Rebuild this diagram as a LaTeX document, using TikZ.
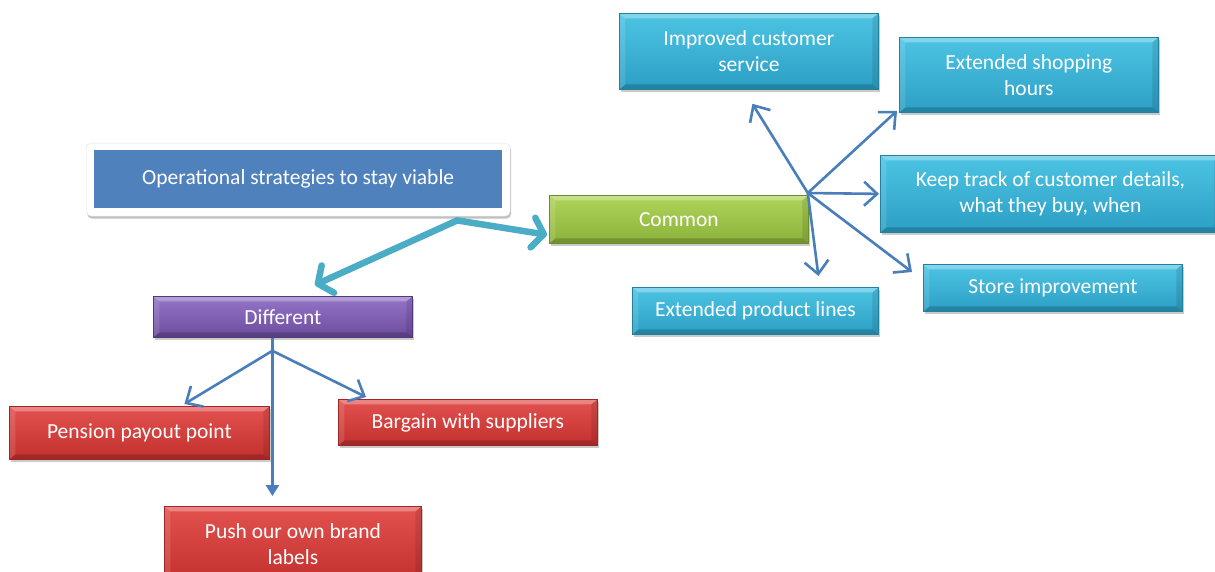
\documentclass[tikz,border=0pt]{standalone}
\usepackage{fontspec}
\setmainfont{Carlito}
\usetikzlibrary{arrows.meta,calc,shadows}

\definecolor{cyanTop}{HTML}{4DC4E4}
\definecolor{cyanBot}{HTML}{2C9FC4}
\definecolor{cyanEdge}{HTML}{23819F}
\definecolor{redTop}{HTML}{E2524F}
\definecolor{redBot}{HTML}{C3302E}
\definecolor{redEdge}{HTML}{9E2624}
\definecolor{purTop}{HTML}{9475C8}
\definecolor{purBot}{HTML}{6A4C9C}
\definecolor{purEdge}{HTML}{523A7A}
\definecolor{grnTop}{HTML}{B0D45A}
\definecolor{grnBot}{HTML}{8AB23A}
\definecolor{grnEdge}{HTML}{6D8E2B}
\definecolor{opBlue}{HTML}{4F81BD}
\definecolor{linkBlue}{HTML}{4A7EBB}
\definecolor{teal}{HTML}{4BACC6}

\tikzset{
  bevel/.style={
    path picture={
      \fill[white,opacity=0.30]
        (path picture bounding box.north west) -- (path picture bounding box.north east)
        -- ([xshift=-6pt,yshift=-5pt]path picture bounding box.north east)
        -- ([xshift=6pt,yshift=-5pt]path picture bounding box.north west) -- cycle;
      \fill[black,opacity=0.18]
        (path picture bounding box.south west) -- (path picture bounding box.south east)
        -- ([xshift=-6pt,yshift=5pt]path picture bounding box.south east)
        -- ([xshift=6pt,yshift=5pt]path picture bounding box.south west) -- cycle;
      \fill[black,opacity=0.10]
        (path picture bounding box.north east) -- (path picture bounding box.south east)
        -- ([xshift=-6pt,yshift=5pt]path picture bounding box.south east)
        -- ([xshift=-6pt,yshift=-5pt]path picture bounding box.north east) -- cycle;
      \fill[white,opacity=0.12]
        (path picture bounding box.north west) -- (path picture bounding box.south west)
        -- ([xshift=6pt,yshift=5pt]path picture bounding box.south west)
        -- ([xshift=6pt,yshift=-5pt]path picture bounding box.north west) -- cycle;
    }},
  box/.style={anchor=north west, inner sep=0pt, align=center, text=white,
    font=\fontsize{21.5}{26}\selectfont, line width=0.8pt, bevel,
    drop shadow={shadow xshift=2pt, shadow yshift=-3pt, opacity=0.35, fill=black!60}},
  cyanbox/.style={box, top color=cyanTop, bottom color=cyanBot, draw=cyanEdge},
  redbox/.style={box, top color=redTop, bottom color=redBot, draw=redEdge},
  purbox/.style={box, top color=purTop, bottom color=purBot, draw=purEdge},
  grnbox/.style={box, top color=grnTop, bottom color=grnBot, draw=grnEdge},
  link/.style={draw=linkBlue, line width=2.6pt, -{Straight Barb[length=13pt,width=24pt,line width=2.6pt]}},
  plainlink/.style={draw=linkBlue, line width=2.6pt},
  filllink/.style={draw=linkBlue, line width=2.6pt, -{Triangle[length=11pt,width=13pt]}, fill=linkBlue},
  bigarrow/.style={draw=teal, line width=6.5pt, line cap=round, line join=round,
    -{Straight Barb[length=11pt,width=30pt,line width=6.5pt,round]}}
}

\begin{document}
\begin{tikzpicture}[x=1pt,y=-1pt]
\useasboundingbox (0,0) rectangle (1215,572);
\clip (0,0) rectangle (1215,572);

% title box: white card with a blue panel
\node[anchor=north west, minimum width=424pt, minimum height=73pt, inner sep=0pt,
      fill=white, draw=black!12, rounded corners=5pt,
      drop shadow={shadow xshift=1pt, shadow yshift=-2.5pt, opacity=0.45, fill=black!55}]
      (card) at (86,143) {};
\node[anchor=north west, minimum width=408pt, minimum height=58pt, inner sep=0pt,
      fill=opBlue, text=white, font=\fontsize{21.5}{26}\selectfont]
      (op) at (94,150) {Operational strategies to stay viable};

% second level
\node[grnbox, minimum width=259pt, minimum height=48pt] (common) at (549,195) {Common};
\node[purbox, minimum width=259pt, minimum height=41pt] (diff) at (153,296) {Different};

% common strategies
\node[cyanbox, minimum width=259pt, minimum height=76pt] (imp) at (619,13) {Improved customer\\service};
\node[cyanbox, minimum width=259pt, minimum height=75pt] (shop) at (899,37) {Extended shopping\\hours};
\node[cyanbox, minimum width=340pt, minimum height=77pt] (track) at (880,155) {Keep track of customer details,\\what they buy, when};
\node[cyanbox, minimum width=259pt, minimum height=47pt] (store) at (923,264) {Store improvement};
\node[cyanbox, minimum width=246pt, minimum height=47pt] (prod) at (632,287) {Extended product lines};

% different strategies
\node[redbox, minimum width=260pt, minimum height=53pt] (pension) at (9,406) {Pension payout point};
\node[redbox, minimum width=259pt, minimum height=46pt] (bargain) at (338,399) {Bargain with suppliers};
\node[redbox, minimum width=257pt, minimum height=76pt] (push) at (164,506) {Push our own brand\\labels};

% thick arrows from the title
\coordinate (split) at ($(card.south)+(159,4)$);
\draw[bigarrow] (split) -- ($(common.south west)+(-2,-9)$);
\draw[bigarrow] (split) -- ($(diff.north)+(32,-11)$);

% fan out of the common branch
\coordinate (chub) at ($(common.north east)+(-1,-2)$);
\draw[link] (chub) -- ($(imp.south)+(3.5,14)$);
\draw[link] (chub) -- ($(shop.south west)+(-2,-2)$);
\draw[link] (chub) -- ($(track.west)+(-1,0)$);
\draw[link] (chub) -- ($(store.north west)+(-11,8)$);
\draw[link] (chub) -- ($(prod.north)+(63,-11)$);

% fan out of the different branch
\coordinate (dtop) at ($(diff.south)+(-10.5,0)$);
\coordinate (dhub) at ($(dtop)+(0,13)$);
\draw[plainlink] (dtop) -- (dhub);
\draw[link] (dhub) -- ($(pension.north)+(45,-2)$);
\draw[link] (dhub) -- ($(bargain.north west)+(28,-2)$);
\draw[filllink] (dhub) -- ($(push.north)+(-20.5,-10)$);
\end{tikzpicture}
\end{document}
